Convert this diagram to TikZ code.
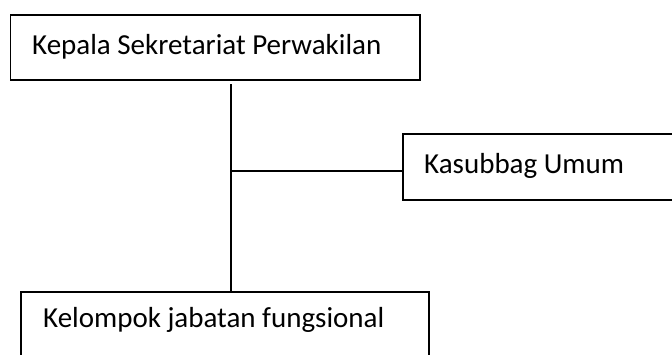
\documentclass[tikz,border=0pt]{standalone}
\usepackage{fontspec}
\setmainfont{Carlito}
\begin{document}
\begin{tikzpicture}[x=1pt,y=-1pt,
  box/.style={draw=black,line width=1.3pt,rectangle,inner sep=0pt},
  lbl/.style={anchor=base west,inner sep=0pt,font=\fontsize{29}{34}\selectfont},
  conn/.style={draw=black,line width=1.2pt}]
\clip (0,0) rectangle (672,354);
\fill[white] (0,0) rectangle (672,354);
\node[box,minimum width=409.3pt,minimum height=65pt] (top) at (215.35,47.5) {};
\node[box,minimum width=300pt,minimum height=66pt] (ks) at (553,167) {};
\node[box,minimum width=408pt,minimum height=70pt] (kjf) at (225,327) {};
\node[lbl] (topt) at (32,54) {Kepala Sekretariat Perwakilan};
\node[lbl] (kst) at (424,173) {Kasubbag Umum};
\node[lbl] (kjft) at (43,327) {Kelompok jabatan fungsional};
\coordinate (vtop) at (231,84);
\coordinate (j) at (231,171);
\draw[conn] (vtop) -- (vtop |- kjf.north);
\draw[conn] (j) -- (j -| ks.west);
\end{tikzpicture}
\end{document}
